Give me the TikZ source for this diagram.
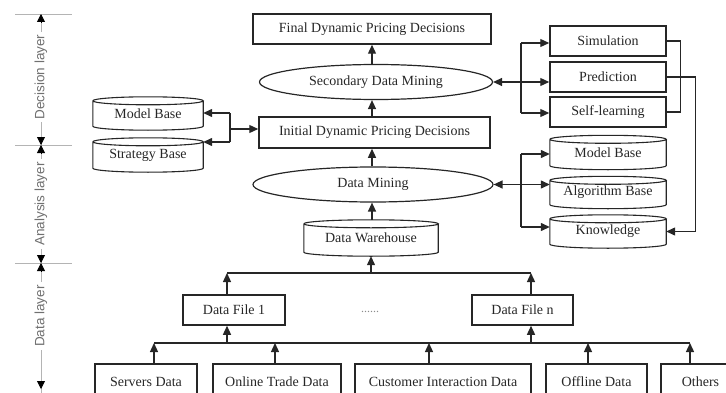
\documentclass[tikz,border=0pt]{standalone}
\usepackage{fontspec}
\setmainfont{Liberation Serif}
\newfontfamily\labelfont{Liberation Sans}
\usetikzlibrary{arrows.meta,shapes.geometric,calc}
\definecolor{ink}{HTML}{262626}
\definecolor{axisgray}{HTML}{B4B4B4}
\definecolor{labgray}{HTML}{707070}
\definecolor{dotgray}{HTML}{8C8C8C}
\begin{document}
\begin{tikzpicture}[x=1pt,y=1pt,
  txt/.style={text=ink, font=\fontsize{14}{16}\selectfont},
  box/.style={txt, draw=ink, line width=1.5pt, rectangle, inner sep=0pt},
  oval/.style={txt, draw=ink, line width=1.2pt, ellipse, inner sep=0pt},
  cyl/.style={txt, rectangle, inner sep=0pt},
  cylline/.style={draw=ink, line width=1.1pt},
  line/.style={draw=ink, line width=1.3pt},
  arr/.style={line, -{Triangle[length=9pt,width=8pt]}},
  darr/.style={line, {Triangle[length=9pt,width=8pt]}-{Triangle[length=9pt,width=8pt]}},
  axisline/.style={draw=axisgray, line width=0.9pt},
  axtip/.style={draw=black, line width=0.8pt, -{Triangle[length=8pt,width=8pt]}},
  layerlab/.style={text=labgray, font=\labelfont\fontsize{13.5}{16}\selectfont, fill=white, inner sep=3pt, rotate=90}
]
\useasboundingbox (0,0) rectangle (726,392);
\clip (0,0) rectangle (726,392);

% ---------- layer axis ----------
\draw[axisline] (41,378) -- (41,-6);
\draw[axisline] (15,378) -- (72,378);
\draw[axisline] (15,247) -- (72,247);
\draw[axisline] (15,129) -- (72,129);
\node[layerlab] (ldec) at (41,315) {Decision layer};
\node[layerlab] (lana) at (41,188) {Analysis layer};
\node[layerlab] (ldat) at (41,76) {Data layer};
\coordinate (t1) at (41,378);
\coordinate (t2) at (41,247);
\coordinate (t3) at (41,129);
\coordinate (t4) at (41,3);
\draw[axtip] ($(t1)+(0,-8)$) -- (t1);
\draw[axtip] ($(t2)+(0,8)$) -- (t2);
\draw[axtip] ($(t2)+(0,-8)$) -- (t2);
\draw[axtip] ($(t3)+(0,8)$) -- (t3);
\draw[axtip] ($(t3)+(0,-8)$) -- (t3);
\draw[axtip] ($(t4)+(0,8)$) -- (t4);

% ---------- central column ----------
\node[box, minimum width=238pt, minimum height=30pt] (final) at (372,363) {Final Dynamic Pricing Decisions};
\node[oval, minimum width=233pt, minimum height=35pt] (sdm) at (376,310) {Secondary Data Mining};
\node[box, minimum width=231pt, minimum height=31pt] (init) at (374.5,259.5) {Initial Dynamic Pricing Decisions};
\node[oval, minimum width=240pt, minimum height=35pt] (dm) at (373,207.5) {Data Mining};
\node[cyl, minimum width=134pt, minimum height=36pt] (dw) at (371,154) {\raisebox{-4pt}{Data Warehouse}};

% ---------- left bases ----------
\node[cyl, minimum width=110pt, minimum height=33pt] (mbL) at (148,278.5) {\raisebox{-3pt}{Model Base}};
\node[cyl, minimum width=110pt, minimum height=34pt] (sbL) at (148,237) {\raisebox{-3pt}{Strategy Base}};

% ---------- right column ----------
\node[box, minimum width=116pt, minimum height=30pt] (sim) at (608,351) {Simulation};
\node[box, minimum width=116pt, minimum height=30pt] (pred) at (608,315) {Prediction};
\node[box, minimum width=116pt, minimum height=30pt] (self) at (608,280) {Self-learning};
\node[cyl, minimum width=116pt, minimum height=34pt] (mbR) at (608,239.5) {\raisebox{-3pt}{Model Base}};
\node[cyl, minimum width=116pt, minimum height=32pt] (ab) at (608,199.5) {\raisebox{-3pt}{Algorithm Base}};
\node[cyl, minimum width=116pt, minimum height=33pt] (kn) at (608,160.5) {\raisebox{-3pt}{Knowledge}};

% ---------- data layer ----------
\node[box, minimum width=102pt, minimum height=30pt] (df1) at (234,82) {Data File 1};
\node[box, minimum width=101pt, minimum height=30pt] (dfn) at (522.5,82) {Data File n};
\node[text=dotgray, font=\fontsize{12}{14}\selectfont] (dots) at (370,80) {......};

\node[box, minimum width=102pt, minimum height=36pt] (srv) at (146,10) {Servers Data};
\node[box, minimum width=128pt, minimum height=36pt] (otd) at (277,10) {Online Trade Data};
\node[box, minimum width=176pt, minimum height=36pt] (cid) at (443,10) {Customer Interaction Data};
\node[box, minimum width=101pt, minimum height=36pt] (off) at (596.5,10) {Offline Data};
\node[box, minimum width=79pt, minimum height=36pt] (oth) at (700.5,10) {Others};

% ---------- cylinders ----------
\foreach \nm in {dw,mbL,sbL,mbR,ab,kn}{
  \draw[cylline] let \p1=(\nm.north west), \p2=(\nm.south east), \n1={(\x2-\x1)/2} in
    (\x1,\y1-4pt) -- (\x1,\y2+4pt) arc[start angle=180,end angle=360,x radius=\n1,y radius=4pt] -- (\x2,\y1-4pt)
    (\x1,\y1-4pt) arc[start angle=180,end angle=-180,x radius=\n1,y radius=4pt];
}

% ---------- central arrows ----------
\draw[arr] (sdm.north -| final.south) -- (final.south);
\draw[arr] (init.north -| final.south) -- (sdm.south -| final.south);
\draw[arr] (dm.north -| final.south) -- (init.south -| final.south);
\draw[arr] (dw.north -| final.south) -- (dm.south -| final.south);

% ---------- left connectors ----------
\coordinate (lt) at (230,279);
\coordinate (lb) at (230,250);
\coordinate (lj) at (230,263);
\draw[line] (lt) -- (lb);
\draw[arr] (lt) -- (lt -| mbL.east);
\draw[arr] (lb) -- (lb -| sbL.east);
\draw[arr] (lj) -- (lj -| init.west);

% ---------- right connectors ----------
\coordinate (ru1) at (521,349);
\coordinate (ru2) at (521,279);
\draw[line] (ru1) -- (ru2);
\draw[arr] (ru1) -- (ru1 -| sim.west);
\draw[arr] (ru2) -- (ru2 -| self.west);
\draw[darr] (sdm.east) -- (sdm.east -| pred.west);
\draw[line] (sim.east) -- ++(14,0) |- (self.east);
\draw[arr] (pred.east) -- ++(29,0) |- (kn.east);

\coordinate (rl1) at (521,238);
\coordinate (rl2) at (521,165);
\draw[line] (rl1) -- (rl2);
\draw[arr] (rl1) -- (rl1 -| mbR.west);
\draw[arr] (rl2) -- (rl2 -| kn.west);
\draw[darr] (dm.east) -- (dm.east -| ab.west);

% ---------- data layer connectors ----------
\coordinate (ub1) at (227,119);
\coordinate (ub2) at (531,119);
\coordinate (ubm) at (371,119);
\draw[line] (ub1) -- (ub2);
\draw[arr] (df1.north -| ub1) -- (ub1);
\draw[arr] (dfn.north -| ub2) -- (ub2);
\draw[arr] (ubm) -- (dw.south);

\coordinate (lb1) at (154,49);
\coordinate (lb2) at (275,49);
\coordinate (lb3) at (429,49);
\coordinate (lb4) at (588,49);
\coordinate (lb5) at (690,49);
\draw[line] (lb1) -- (lb5);
\draw[arr] (srv.north -| lb1) -- (lb1);
\draw[arr] (otd.north -| lb2) -- (lb2);
\draw[arr] (cid.north -| lb3) -- (lb3);
\draw[arr] (off.north -| lb4) -- (lb4);
\draw[arr] (oth.north -| lb5) -- (lb5);
\draw[arr] (ub1 |- lb1) -- (df1.south -| ub1);
\draw[arr] (ub2 |- lb1) -- (dfn.south -| ub2);
\end{tikzpicture}
\end{document}
